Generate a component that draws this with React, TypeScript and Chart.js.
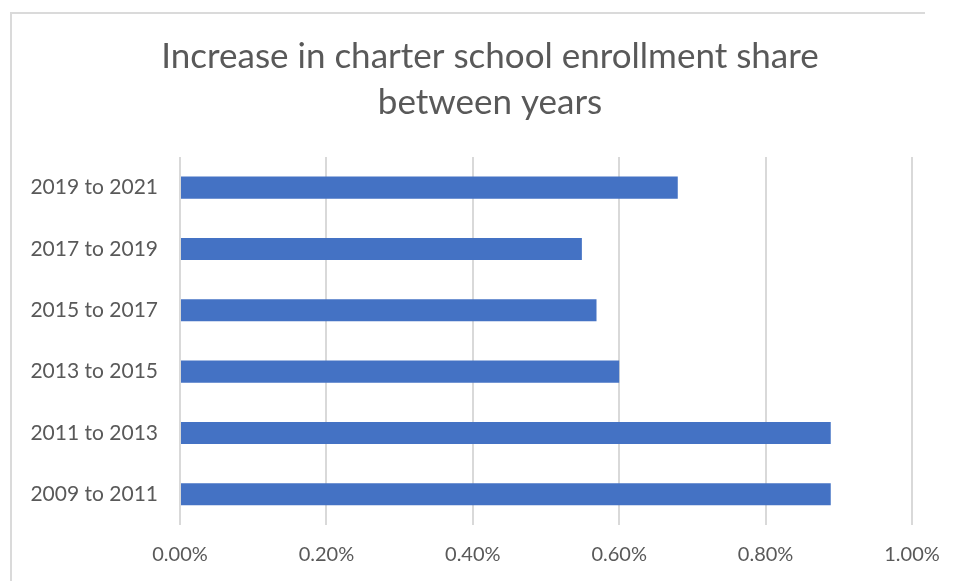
import React, { useEffect, useRef } from "react";
import { Chart, registerables } from "chart.js";

Chart.register(...registerables);

const titleLines = ["Increase in charter school enrollment share", "between years"];
const categories = [
  "2009 to 2011",
  "2011 to 2013",
  "2013 to 2015",
  "2015 to 2017",
  "2017 to 2019",
  "2019 to 2021",
];
const increaseValues = [0.889, 0.889, 0.6, 0.569, 0.549, 0.68];
const xMin = 0;
const xMax = 1.0;
const xStep = 0.2;

const FONT = "Lato, 'Open Sans', 'DejaVu Sans', sans-serif";
const TEXT_COLOR = "#595959";
const GRID_COLOR = "#d9d9d9";
const BAR_COLOR = "#4472C4";

export default function App() {
  const canvasRef = useRef<HTMLCanvasElement | null>(null);

  useEffect(() => {
    const canvas = canvasRef.current;
    if (!canvas) return;
    const chart = new Chart(canvas, {
      type: "bar",
      data: {
        labels: categories,
        datasets: [
          {
            label: "Increase",
            data: increaseValues,
            backgroundColor: BAR_COLOR,
            borderWidth: 0,
            categoryPercentage: 1,
            barPercentage: 0.36,
            yAxisID: "y",
          },
        ],
      },
      options: {
        indexAxis: "y",
        animation: false,
        responsive: false,
        maintainAspectRatio: false,
        layout: { padding: { left: 21, right: 0, top: 0, bottom: 0 } },
        plugins: {
          legend: { display: false },
          tooltip: { enabled: false },
          title: {
            display: true,
            text: titleLines,
            color: TEXT_COLOR,
            font: { family: FONT, size: 35, weight: "normal", lineHeight: 1.314 },
            padding: { top: 34, bottom: 31 },
          },
        },
        scales: {
          x: {
            type: "linear",
            min: xMin,
            max: xMax,
            grid: { display: true, color: GRID_COLOR, lineWidth: 2, drawTicks: false },
            border: { display: false },
            ticks: {
              stepSize: xStep,
              padding: 18,
              color: TEXT_COLOR,
              font: { family: FONT, size: 20 },
              callback: (v: any) => Number(v).toFixed(2) + "%",
            },
            afterFit: (scale: any) => {
              scale.height = 56;
            },
          },
          y: {
            type: "category",
            position: "left",
            reverse: true,
            grid: { display: false, drawTicks: false },
            border: { display: false },
            ticks: {
              padding: 22,
              color: TEXT_COLOR,
              font: { family: FONT, size: 21 },
            },
            afterFit: (scale: any) => {
              scale.width = 159;
            },
          },
          yRightSpace: {
            type: "linear",
            position: "right",
            display: true,
            grid: { display: false, drawTicks: false },
            border: { display: false },
            ticks: { display: false },
            afterFit: (scale: any) => {
              scale.width = 47;
            },
          },
        },
      },
    });
    return () => chart.destroy();
  }, []);

  return (
    <div style={{ position: "absolute", left: 0, top: 0, width: 959, height: 581, background: "#fff", overflow: "hidden" }}>
      <div
        style={{
          position: "absolute",
          left: 10,
          top: 12,
          width: 913,
          height: 600,
          borderTop: "2px solid #dadada",
          borderLeft: "2px solid #dadada",
        }}
      />
      <canvas ref={canvasRef} width={959} height={581} style={{ position: "absolute", left: 0, top: 0, width: 959, height: 581 }} />
    </div>
  );
}
